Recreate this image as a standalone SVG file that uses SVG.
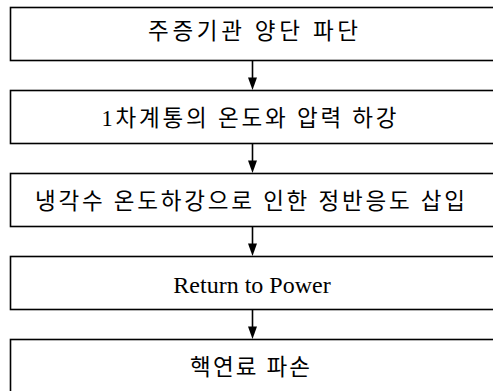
<svg xmlns="http://www.w3.org/2000/svg" width="493" height="391" viewBox="0 0 493 391">
<style>
.box{fill:#fff;stroke:#000;stroke-width:1.6}
.t{font-family:"Liberation Serif","Noto Sans CJK KR",serif;font-size:22.5px;fill:#000;text-anchor:middle}
.ln{stroke:#000;stroke-width:1.6;fill:none}
.ah{fill:#000}
</style>
<rect width="493" height="391" fill="#fff"/>
<g id="connectors">
<line class="ln" x1="252.5" y1="60.5" x2="252.5" y2="78"/>
<polygon class="ah" points="248,77.5 257,77.5 252.5,90"/>
<line class="ln" x1="252.5" y1="143.5" x2="252.5" y2="161"/>
<polygon class="ah" points="248,160.5 257,160.5 252.5,173"/>
<line class="ln" x1="252.5" y1="226.5" x2="252.5" y2="244"/>
<polygon class="ah" points="248,243.5 257,243.5 252.5,256"/>
<line class="ln" x1="252.5" y1="309.5" x2="252.5" y2="327"/>
<polygon class="ah" points="248,326.5 257,326.5 252.5,339"/>
</g>
<g id="node1">
<rect class="box" x="10.5" y="7.5" width="500" height="53"/>
<text class="t" x="253" y="39" textLength="210" lengthAdjust="spacing">주증기관 양단 파단</text>
</g>
<g id="node2">
<rect class="box" x="10.5" y="90.5" width="500" height="53"/>
<text class="t" x="249" y="126" textLength="295" lengthAdjust="spacing">1차계통의 온도와 압력 하강</text>
</g>
<g id="node3">
<rect class="box" x="10.5" y="173.5" width="500" height="53"/>
<text class="t" x="250" y="209" textLength="430" lengthAdjust="spacing">냉각수 온도하강으로 인한 정반응도 삽입</text>
</g>
<g id="node4">
<rect class="box" x="10.5" y="256.5" width="500" height="53"/>
<text class="t" x="252" y="292.5" style="font-size:24px">Return to Power</text>
</g>
<g id="node5">
<rect class="box" x="10.5" y="339.5" width="500" height="53"/>
<text class="t" x="250" y="375" textLength="120" lengthAdjust="spacing">핵연료 파손</text>
</g>
</svg>
